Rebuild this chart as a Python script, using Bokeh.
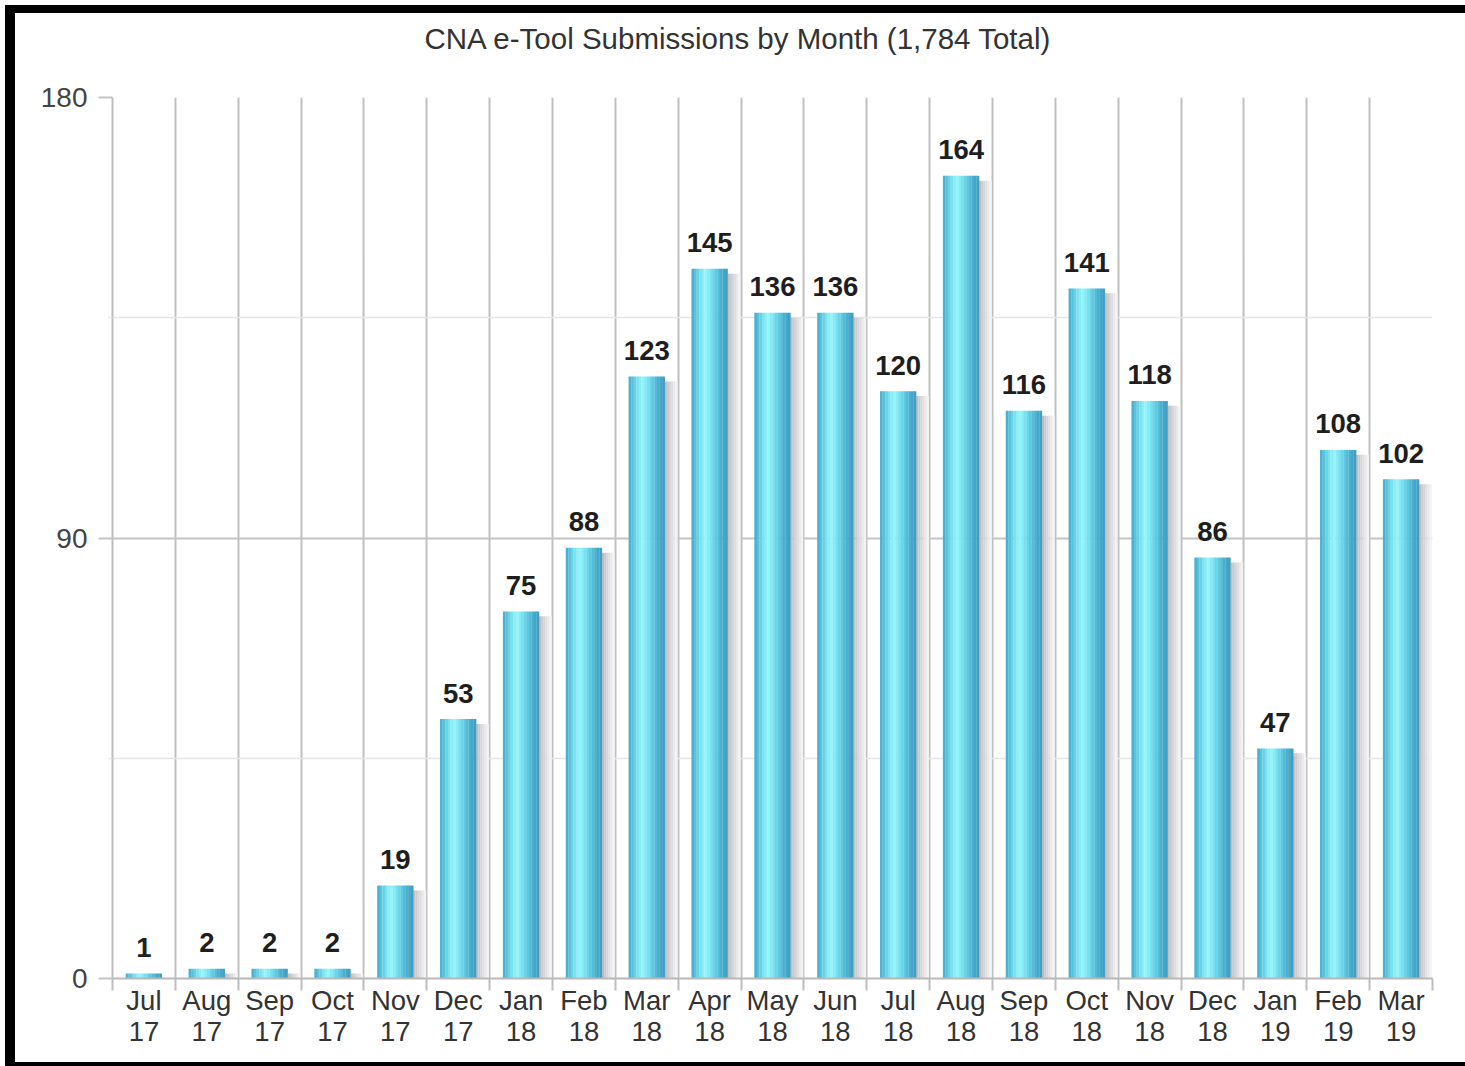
from bokeh.plotting import figure
from bokeh.models import FixedTicker, Range1d, ColumnDataSource, Title
from bokeh.core.properties import value
from bokeh.embed import file_html
from bokeh.resources import INLINE

months = ["Jul", "Aug", "Sep", "Oct", "Nov", "Dec", "Jan", "Feb", "Mar", "Apr", "May", "Jun",
          "Jul", "Aug", "Sep", "Oct", "Nov", "Dec", "Jan", "Feb", "Mar"]
years = ["17", "17", "17", "17", "17", "17", "18", "18", "18", "18", "18", "18",
         "18", "18", "18", "18", "18", "18", "19", "19", "19"]
submissions = [1, 2, 2, 2, 19, 53, 75, 88, 123, 145, 136, 136,
               120, 164, 116, 141, 118, 86, 47, 108, 102]
y_ticks = [0, 90, 180]
y_minor = [45, 135]
title_text = "CNA e-Tool Submissions by Month (1,784 Total)"

n = len(submissions)
centers = [i + 0.5 for i in range(n)]

FONT = "Liberation Sans"

p = figure(width=1450, height=1049, output_backend="svg", toolbar_location=None,
           x_range=Range1d(0, n), y_range=Range1d(0, 180), title=None,
           min_border_left=97, min_border_right=33, min_border_top=84, min_border_bottom=84)
# black frame drawn as box-shadows (does not change the layout size)
p.styles = {"margin-left": "15px", "margin-top": "13px",
            "box-shadow": ("-10px 0 0 0 black, 0 -8px 0 0 black, -10px -8px 0 0 black, "
                           "0 4px 0 0 black, -10px 4px 0 0 black")}
p.outline_line_color = None
p.background_fill_color = "white"
p.border_fill_color = "white"

# spacer title (closest to frame) then the real title above it
spacer = Title(text=" ", text_font=FONT, text_font_size="23px", text_color="white")
p.add_layout(spacer, "above")
main_title = Title(text=title_text, text_font=FONT, text_font_size="29.5px",
                   text_font_style="normal", text_color="#333333", align="left", offset=312)
p.add_layout(main_title, "above")

# gradient helper
def hex2rgb(h):
    h = h.lstrip("#")
    return tuple(int(h[k:k + 2], 16) for k in (0, 2, 4))

def rgb2hex(c):
    return "#%02x%02x%02x" % tuple(int(round(v)) for v in c)

stops = [(0.0, "#42a8ca"), (0.12, "#5cc6de"), (0.3, "#88ebf5"), (0.4, "#95f5fb"),
         (0.62, "#66d3e6"), (0.85, "#47aacb"), (1.0, "#3e9cc0")]

def grad(t):
    for (t0, c0), (t1, c1) in zip(stops[:-1], stops[1:]):
        if t0 <= t <= t1:
            a, b = hex2rgb(c0), hex2rgb(c1)
            f = (t - t0) / (t1 - t0)
            return rgb2hex([a[k] + (b[k] - a[k]) * f for k in range(3)])
    return stops[-1][1]

bw = 0.575
nstrip = 14
sw = bw / nstrip

# shadow
shadow_cols = ["#bfbfc6", "#cacacf", "#d5d5da", "#dfdfe3", "#e9e9ec", "#f3f3f4"]
shw = 0.2 / len(shadow_cols)
shadow_top = [max(v - 1.0, 0) for v in submissions]
for k, col in enumerate(shadow_cols):
    xs = [c + bw / 2 + shw * (k + 0.5) for c in centers]
    p.vbar(x=xs, top=shadow_top, bottom=0, width=shw * 1.05, fill_color=col, line_color=None)

for k in range(nstrip):
    t = (k + 0.5) / nstrip
    xs = [c - bw / 2 + sw * (k + 0.5) for c in centers]
    p.vbar(x=xs, top=submissions, bottom=0, width=sw * 1.08, fill_color=grad(t), line_color=None)

src = ColumnDataSource(dict(x=centers, y=submissions, t=[str(v) for v in submissions]))
p.text(x="x", y="y", text="t", source=src, text_align="center", text_baseline="alphabetic",
       y_offset=-26, text_font=value(FONT), text_font_size="27.5px", text_font_style="bold",
       text_color="#1e1e1e")

# x axis
p.xaxis.ticker = FixedTicker(ticks=centers, minor_ticks=list(range(n + 1)))
p.xaxis.major_label_overrides = {c: f"{m}\n{y}" for c, m, y in zip(centers, months, years)}
p.xaxis.major_tick_line_color = None
p.xaxis.minor_tick_line_color = "#bdbdbd"
p.xaxis.minor_tick_line_width = 2
p.xaxis.minor_tick_out = 12
p.xaxis.minor_tick_in = 0
p.xaxis.axis_line_color = "#b8b8b8"
p.xaxis.axis_line_width = 2
p.xaxis.major_label_text_font = FONT
p.xaxis.major_label_text_font_size = "27.5px"
p.xaxis.major_label_text_color = "#333333"
p.xaxis.major_label_standoff = -6
p.xaxis.major_label_text_line_height = 1.0

# y axis
p.yaxis.ticker = FixedTicker(ticks=y_ticks, minor_ticks=y_minor)
p.yaxis.axis_line_color = "#bdbdbd"
p.yaxis.axis_line_width = 2
p.yaxis.major_tick_line_color = "#c4c4c4"
p.yaxis.major_tick_line_width = 2
p.yaxis.major_tick_out = 14
p.yaxis.major_tick_in = 0
p.yaxis.minor_tick_line_color = "#e6e6e6"
p.yaxis.minor_tick_line_width = 1.5
p.yaxis.minor_tick_out = 4
p.yaxis.minor_tick_in = 0
p.yaxis.major_label_text_font = FONT
p.yaxis.major_label_text_font_size = "28px"
p.yaxis.major_label_text_color = "#444444"
p.yaxis.major_label_standoff = 11

# grids
p.xgrid.ticker = FixedTicker(ticks=list(range(n + 1)))
p.xgrid.grid_line_color = "#c0c0c0"
p.xgrid.grid_line_width = 2
p.ygrid.grid_line_color = "#c4c4c4"
p.ygrid.grid_line_width = 2
p.ygrid.minor_grid_line_color = "#e6e6e6"
p.ygrid.minor_grid_line_width = 1.5

open("out.html", "w").write(file_html(p, INLINE))
